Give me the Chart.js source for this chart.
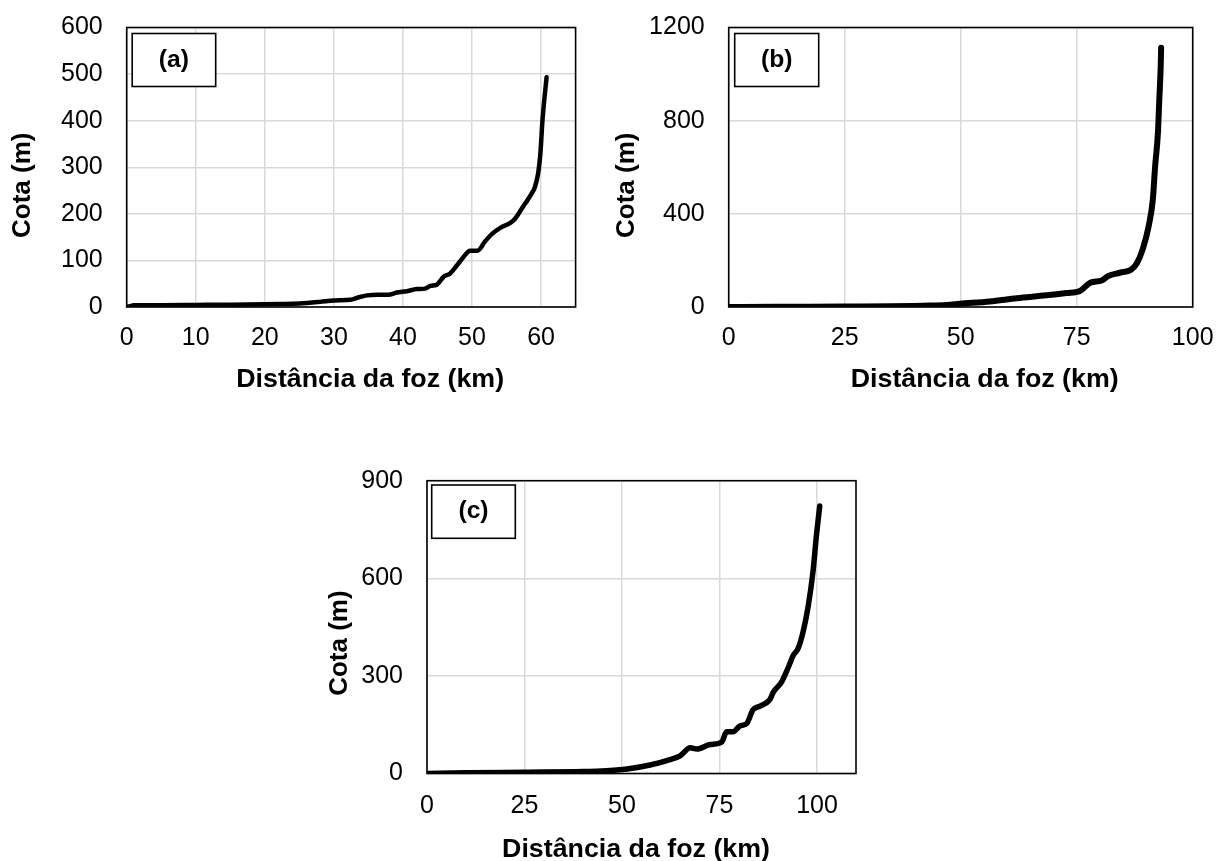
<!DOCTYPE html>
<html><head><meta charset="utf-8">
<script src="https://cdn.jsdelivr.net/npm/chart.js@4.4.1/dist/chart.umd.min.js"></script>
<style>
html,body{margin:0;padding:0;background:#fff;width:1217px;height:861px;overflow:hidden}
canvas{position:absolute;left:0;top:0}
</style></head><body>
<canvas id="ca" width="1217" height="861"></canvas>
<canvas id="cb" width="1217" height="861"></canvas>
<canvas id="cc" width="1217" height="861"></canvas>
<script>
// ---- data (km from mouth, elevation m) ----
const distA = [0,0.5,1,5,10,15,20,22,25,28,30,32.4,33.6,34.8,36.3,37.9,39.1,40.6,42,43.2,44,44.9,45.9,46.8,47.8,48.8,49.7,50.8,51.9,52.9,54.1,55.5,56.2,57.2,58.6,59.1,59.6,59.9,60.2,60.5,60.8];
const cotaA = [0,2,3.5,4,4.5,5,6,6.5,7.5,11,14,15.5,21,25,26.5,26.5,31,34,38.5,39.5,45.5,48,65,71.5,89,108,121,121,141,157,170,180,189,211,243,257,289,329,400,450,493];

const distB = [0,10,25,35,43.4,47,49.8,56.3,62.1,68.5,72.8,75.7,77.9,80.4,81.8,84.3,86.7,88,89.2,90.5,91.4,91.9,92.5,92.8,93.1,93.2];
const cotaB = [0,1,2,3,6,9,14,24,38,50,60,69,104,114,133,147,160,189,246,346,460,603,746,889,1031,1113];

const distC = [0,10,25,40,44.5,51.3,57.2,62.3,64.9,67.5,69.2,72.6,75.6,76.8,78.5,80.2,82,83.6,85.4,87.9,88.8,90.9,92.6,93.9,95.1,96.4,97.7,99,99.8,100.7];
const cotaC = [0,2,4,6,7.7,13.8,26,43,54.5,79,75,89,97,128,128,146,154,196,207,227,250,281,325,363,383,434,511,623,725,822];

const xTicksA = [0,10,20,30,40,50,60];
const yTicksA = [0,100,200,300,400,500,600];
const xTicksB = [0,25,50,75,100];
const yTicksB = [0,400,800,1200];
const xTicksC = [0,25,50,75,100];
const yTicksC = [0,300,600,900];

const panelLabels = ['(a)','(b)','(c)'];
const xTitle = 'Distância da foz (km)';
const yTitle = 'Cota (m)';

const FONT = '"Liberation Sans", Arial, sans-serif';
const STRETCH = 1.03;

const deco = {
  id: 'deco',
  afterDraw(chart, args, o) {
    const ctx = chart.ctx, a = chart.chartArea;
    ctx.save();
    ctx.strokeStyle = '#000';
    ctx.lineWidth = 1.6;
    ctx.strokeRect(a.left, a.top, a.right - a.left, a.bottom - a.top);
    // panel label box
    const bx = a.left + o.box[0], by = a.top + o.box[1], bw = o.box[2], bh = o.box[3];
    ctx.fillStyle = '#fff';
    ctx.fillRect(bx, by, bw, bh);
    ctx.strokeRect(bx, by, bw, bh);
    ctx.fillStyle = '#000';
    ctx.textAlign = 'center';
    ctx.textBaseline = 'middle';
    ctx.font = 'bold 24px ' + FONT;
    ctx.save(); ctx.translate(bx + bw / 2, by + bh / 2); ctx.scale(STRETCH, 1); ctx.fillText(o.label, 0, 0); ctx.restore();
    // x title
    ctx.font = 'bold 26px ' + FONT;
    ctx.textBaseline = 'alphabetic';
    ctx.save(); ctx.translate((a.left + a.right) / 2 + o.xt[0], a.bottom + o.xt[1]); ctx.scale(STRETCH, 1); ctx.fillText(o.xTitle, 0, 0); ctx.restore();
    // y title
    ctx.textBaseline = 'middle';
    ctx.save(); ctx.translate(a.left + o.yt[0], (a.top + a.bottom) / 2 + o.yt[1]); ctx.rotate(-Math.PI / 2); ctx.fillText(o.yTitle, 0, 0); ctx.restore();
    ctx.restore();
  }
};

function makeChart(id, c) {
  const pts = c.dist.map((d, i) => ({ x: d, y: c.cota[i] }));
  return new Chart(document.getElementById(id), {
    type: 'line',
    data: { datasets: [{ data: pts, borderColor: '#000', borderWidth: c.lw, pointRadius: 0,
      cubicInterpolationMode: 'monotone', fill: false, borderCapStyle: 'round', borderJoinStyle: 'round' }] },
    options: {
      responsive: false, animation: false, devicePixelRatio: 1,
      layout: { padding: c.pad },
      plugins: { legend: { display: false }, tooltip: { enabled: false }, deco: c.deco },
      scales: {
        x: {
          type: 'linear', min: c.xmin, max: c.xmax,
          afterBuildTicks: s => { s.ticks = c.xt.map(v => ({ value: v })); },
          afterFit: s => { s.height = 60; s.paddingLeft = 0; s.paddingRight = 0; },
          grid: { color: '#d9d9d9', lineWidth: 1.5, drawTicks: false },
          border: { display: false },
          ticks: { padding: c.xpad, color: '#000', font: { family: FONT, size: 25 }, maxRotation: 0, autoSkip: false, callback: v => String(v) }
        },
        y: {
          type: 'linear', min: c.ymin, max: c.ymax,
          afterBuildTicks: s => { s.ticks = c.yt.map(v => ({ value: v })); },
          afterFit: s => { s.width = 80; s.paddingTop = 0; s.paddingBottom = 0; },
          grid: { color: '#d9d9d9', lineWidth: 1.5, drawTicks: false },
          border: { display: false },
          ticks: { padding: 24, color: '#000', font: { family: FONT, size: 25 }, autoSkip: false, callback: v => String(v) }
        }
      }
    },
    plugins: [deco]
  });
}

makeChart('ca', { dist: distA, cota: cotaA, lw: 4.5, xmin: 0, xmax: 65, ymin: 0, ymax: 600, xt: xTicksA, yt: yTicksA, xpad: 16.5,
  pad: { left: 46.7, top: 27.5, right: 641.4, bottom: 494 },
  deco: { label: panelLabels[0], box: [5.5, 6, 83.5, 53], xt: [19, 79.7], yt: [-104, 18], xTitle: xTitle, yTitle: yTitle } });
makeChart('cb', { dist: distB, cota: cotaB, lw: 6, xmin: 0, xmax: 100, ymin: 0, ymax: 1200, xt: xTicksB, yt: yTicksB, xpad: 16.5,
  pad: { left: 648.7, top: 27.5, right: 24.3, bottom: 494 },
  deco: { label: panelLabels[1], box: [6, 6, 84, 53], xt: [24, 79.7], yt: [-102, 18], xTitle: xTitle, yTitle: yTitle } });
makeChart('cc', { dist: distC, cota: cotaC, lw: 5.5, xmin: 0, xmax: 110, ymin: 0, ymax: 900, xt: xTicksC, yt: yTicksC, xpad: 17.5,
  pad: { left: 347, top: 480.7, right: 361, bottom: 27.5 },
  deco: { label: panelLabels[2], box: [4.7, 4.3, 83.6, 53.3], xt: [-5.5, 83.2], yt: [-87, 16], xTitle: xTitle, yTitle: yTitle } });
</script>
</body></html>
